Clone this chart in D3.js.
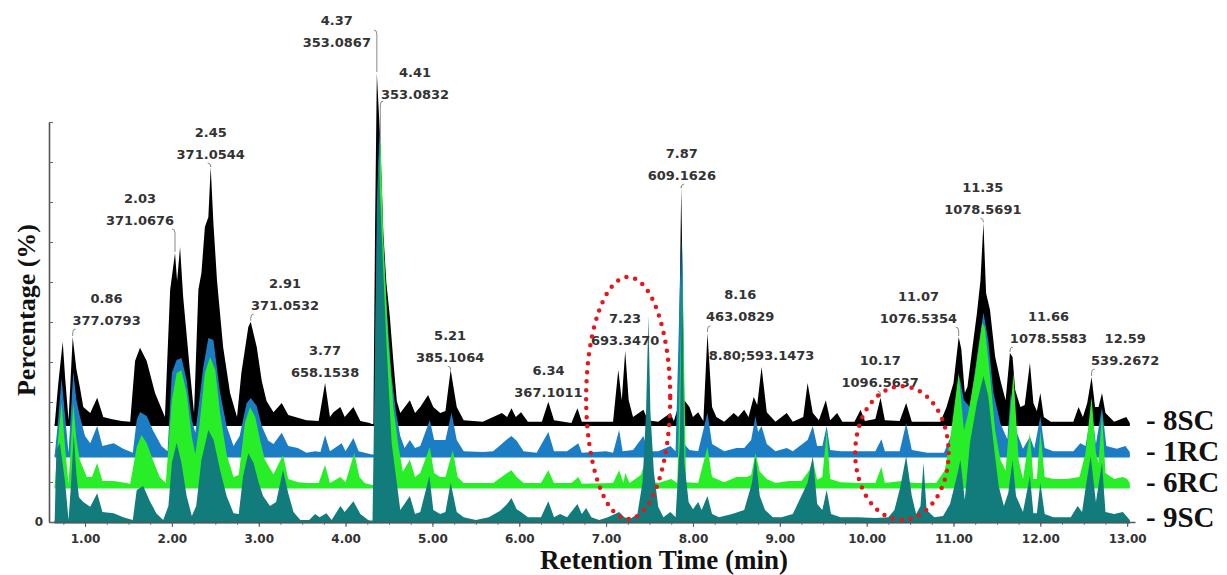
<!DOCTYPE html>
<html>
<head>
<meta charset="utf-8">
<script src="https://cdn.jsdelivr.net/npm/d3@7/dist/d3.min.js"></script>
<style>
  body { margin: 0; background: #fff; }
  svg { display: block; }
</style>
</head>
<body>
<div class="chart"></div>
<script>
// chromatogram values: [retention time (min), intensity (%)]
var s8SC = [[0.65,0],[0.69,10],[0.743,20.8],[0.77,12],[0.81,1.2],[0.858,22],[0.90,14],[0.94,9.5],[0.98,4.5],[1.06,3],[1.14,6.8],[1.21,2],[1.30,1.5],[1.42,1],[1.52,0.8],[1.576,16],[1.633,19.3],[1.71,16],[1.806,8],[1.92,2],[1.98,33.8],[2.036,43],[2.06,36],[2.094,44.5],[2.13,32],[2.21,13],[2.255,3],[2.305,33.8],[2.34,38],[2.38,49.5],[2.42,52],[2.447,64.5],[2.478,50.5],[2.52,36],[2.59,19.5],[2.67,8],[2.75,2],[2.80,13],[2.88,24.5],[2.908,25.8],[2.977,19.5],[3.035,11],[3.09,6],[3.17,3.2],[3.265,5.5],[3.34,2.5],[3.55,1.2],[3.69,1],[3.764,10.5],[3.82,2],[3.86,3.2],[3.94,4.5],[3.99,2],[4.09,4.5],[4.17,1],[4.28,0.5],[4.32,0],[4.34,50],[4.36,88],[4.40,71],[4.435,48],[4.47,35.5],[4.51,27],[4.55,16],[4.59,6],[4.63,3],[4.74,6.2],[4.80,3],[4.86,4.5],[4.95,7.5],[5.01,4.5],[5.09,3],[5.15,3.5],[5.21,13.8],[5.28,4.5],[5.36,1.2],[5.58,0.8],[5.80,3],[5.86,2],[5.91,4.2],[5.96,2],[6.02,3.2],[6.10,0.8],[6.26,0.8],[6.335,5.8],[6.40,1.2],[6.60,0.5],[6.67,4.2],[6.72,0.8],[7.08,0.8],[7.14,13.8],[7.18,6.2],[7.22,18.5],[7.26,6.2],[7.31,2],[7.43,3.8],[7.48,1.2],[7.60,0.8],[7.74,3],[7.78,1],[7.83,4.5],[7.865,59.5],[7.90,6.2],[7.96,4.5],[8.0,2],[8.06,3.2],[8.12,1],[8.167,23],[8.22,4.5],[8.27,2],[8.36,0.8],[8.47,3],[8.52,2],[8.59,3.8],[8.64,2],[8.70,7],[8.74,5],[8.79,14.5],[8.85,3.2],[8.95,0.8],[9.08,3],[9.15,0.8],[9.27,2],[9.32,10.5],[9.38,3],[9.45,1.2],[9.53,6.2],[9.58,1.2],[9.66,3],[9.72,0.8],[9.86,0.8],[9.93,3.8],[9.98,1],[10.10,1.5],[10.16,6.8],[10.21,1.2],[10.38,1],[10.455,5.5],[10.52,0.8],[10.85,0.8],[10.92,4.5],[11.0,10.5],[11.06,22],[11.09,19],[11.13,8],[11.16,9.5],[11.21,18],[11.27,28],[11.31,36],[11.345,50.5],[11.375,33],[11.42,28.8],[11.48,17],[11.54,11.2],[11.60,6.2],[11.65,18],[11.68,17],[11.71,8.8],[11.77,4.5],[11.82,5],[11.88,15.5],[11.92,5.5],[11.96,3.5],[12.0,8],[12.04,2],[12.12,0.8],[12.38,0.8],[12.44,4.5],[12.49,2],[12.54,5.5],[12.59,12],[12.63,4.5],[12.67,4.5],[12.71,8],[12.75,3],[12.85,0.8],[12.99,2],[13.03,0.5]];

var s1RC = [[0.65,0],[0.69,9],[0.73,19.5],[0.77,10],[0.81,0.8],[0.865,21],[0.90,14],[0.94,10],[1.0,5],[1.06,3.2],[1.14,7.5],[1.20,2.5],[1.33,3.2],[1.44,1.8],[1.55,0.8],[1.595,9],[1.633,11],[1.71,10],[1.78,6.5],[1.88,2.5],[1.95,1.2],[2.0,20.8],[2.055,24],[2.11,24.5],[2.17,19],[2.23,9],[2.27,5.8],[2.305,12],[2.36,22],[2.42,29.5],[2.478,29],[2.555,15.8],[2.63,7.5],[2.71,2.5],[2.78,5],[2.86,13.2],[2.908,14.5],[2.977,12.5],[3.035,7.5],[3.11,3.8],[3.17,3],[3.265,5.8],[3.34,2.5],[3.45,2],[3.55,0.8],[3.65,1.2],[3.71,1],[3.764,5.2],[3.82,1.2],[3.955,3.2],[4.0,1.2],[4.09,4.5],[4.15,1.2],[4.28,0.5],[4.33,0],[4.36,62],[4.39,81.5],[4.43,55],[4.48,35],[4.53,20],[4.58,11],[4.63,5],[4.68,2],[4.74,4],[4.80,2],[4.86,2.5],[4.97,9],[5.02,4],[5.09,4],[5.15,4],[5.22,10.8],[5.28,4],[5.36,1.2],[5.58,1],[5.70,1.2],[5.86,4.2],[5.91,5],[5.97,3.8],[6.05,1.2],[6.20,0.8],[6.335,6],[6.40,1.2],[6.55,1.2],[6.68,3.2],[6.72,0.8],[7.0,1.2],[7.08,0.8],[7.15,6.5],[7.19,1.2],[7.31,1.5],[7.43,5],[7.48,1.2],[7.60,1.2],[7.74,2.5],[7.80,1.2],[7.865,54.8],[7.90,3],[7.96,1.5],[8.06,1.2],[8.167,10.8],[8.22,3],[8.36,1.2],[8.50,2],[8.59,2],[8.67,4],[8.72,10],[8.75,6],[8.79,7.5],[8.85,3],[8.95,1.2],[9.08,2],[9.15,1.2],[9.32,4],[9.38,7.5],[9.43,2.5],[9.49,2.5],[9.54,7.5],[9.58,1.5],[9.70,1.2],[9.90,1.2],[10.10,1.2],[10.17,4.2],[10.21,1.2],[10.38,1.2],[10.455,8.2],[10.52,1.5],[10.70,0.8],[10.89,0.8],[11.0,6.5],[11.07,19.8],[11.12,14],[11.19,12.2],[11.27,24.8],[11.345,35.8],[11.40,29],[11.46,15.8],[11.54,8.2],[11.62,4.2],[11.66,15.8],[11.73,5.8],[11.80,1.8],[11.88,4.8],[11.93,1.8],[12.0,9.8],[12.05,2],[12.15,1.2],[12.38,1.2],[12.46,3.2],[12.52,2.5],[12.59,11.5],[12.64,3],[12.71,12.2],[12.76,2.5],[12.88,1.8],[12.98,2.5],[13.03,1]];

var s6RC = [[0.65,0],[0.69,12],[0.73,21],[0.77,10],[0.81,0.8],[0.865,21],[0.90,12],[0.94,6.8],[1.02,2.5],[1.08,2.5],[1.14,6],[1.20,1.5],[1.33,1.5],[1.42,1.2],[1.52,0.8],[1.595,10],[1.65,13],[1.71,11],[1.78,6.8],[1.86,2.5],[1.93,1],[2.0,21.8],[2.055,28.5],[2.11,29.2],[2.17,23.5],[2.23,12.5],[2.27,8.2],[2.32,16],[2.38,28.5],[2.44,32.5],[2.50,29.2],[2.555,18.5],[2.63,8.2],[2.71,2.5],[2.77,3],[2.84,16],[2.90,20],[2.96,17.5],[3.015,11.8],[3.07,6.8],[3.17,3.2],[3.28,8],[3.34,2],[3.45,1.2],[3.55,1],[3.69,1],[3.764,5.5],[3.82,1],[3.94,2.5],[4.0,1.2],[4.10,8.5],[4.16,2.5],[4.22,1],[4.30,0.5],[4.34,0.5],[4.37,50],[4.40,88.5],[4.435,61.8],[4.49,36.8],[4.55,20],[4.61,10],[4.66,3.8],[4.74,6.8],[4.80,2.5],[4.86,3.5],[4.97,10],[5.02,3.5],[5.09,2.5],[5.15,2.5],[5.235,9.2],[5.29,2.5],[5.36,1],[5.70,1],[5.86,3.5],[5.91,4.2],[5.97,2.5],[6.05,1],[6.25,1],[6.335,4.2],[6.40,1],[6.60,1],[6.68,2.5],[6.72,0.8],[7.08,1],[7.15,4.2],[7.20,1],[7.22,3.5],[7.27,1],[7.40,3],[7.43,5],[7.48,1.5],[7.60,1],[7.75,2],[7.82,1],[7.88,56],[7.92,1.2],[8.06,1],[8.167,10],[8.22,2.5],[8.36,1.2],[8.50,2.5],[8.62,2.5],[8.67,3],[8.72,8.5],[8.77,3.8],[8.85,2],[8.95,1],[9.10,1.5],[9.25,1.5],[9.34,4.2],[9.38,6.8],[9.43,1.8],[9.49,2.5],[9.54,14.2],[9.58,2],[9.70,1.2],[9.90,1],[10.10,1],[10.17,5],[10.21,1],[10.40,1.5],[10.55,1],[10.80,1],[10.90,4.2],[10.96,11.8],[11.06,28.5],[11.12,14.2],[11.17,18.5],[11.25,28.5],[11.33,41],[11.36,40],[11.41,30],[11.48,14.2],[11.54,6.8],[11.60,4.2],[11.65,17.5],[11.69,28.5],[11.75,6.8],[11.80,2],[11.88,13.5],[11.92,2],[11.96,2],[12.0,14.2],[12.05,2.5],[12.15,2],[12.30,2],[12.45,2.5],[12.52,8.5],[12.59,22.5],[12.64,8.5],[12.67,6],[12.71,18.5],[12.75,3.5],[12.85,2],[12.95,2.5],[13.0,2],[13.03,1]];

var s9SC = [[0.65,0],[0.67,18],[0.71,19.8],[0.77,10],[0.81,0.5],[0.84,10],[0.87,22],[0.90,12],[0.93,6.2],[0.98,5],[1.06,3.8],[1.14,7.2],[1.20,2.5],[1.33,2.2],[1.44,1.2],[1.55,0.5],[1.595,8],[1.67,9],[1.74,5.5],[1.82,2.2],[1.90,0.5],[1.96,4],[2.0,14.8],[2.055,19.8],[2.11,14.8],[2.17,6.5],[2.23,1.5],[2.28,4],[2.34,15.5],[2.42,23],[2.48,20.5],[2.555,13],[2.63,6.5],[2.71,2.2],[2.77,2],[2.82,11.5],[2.88,17.2],[2.94,14.8],[3.0,9.8],[3.05,6.5],[3.13,4],[3.20,5],[3.28,13],[3.34,7.2],[3.40,2.5],[3.48,0.5],[3.58,0.5],[3.65,2],[3.70,1.2],[3.78,2.2],[3.84,0.5],[3.94,4],[3.99,2.5],[4.09,5.2],[4.17,2],[4.26,0.5],[4.31,0],[4.34,44.8],[4.377,92.2],[4.42,69.8],[4.47,44.8],[4.53,19.8],[4.63,3],[4.74,6.5],[4.80,2],[4.86,2.5],[4.965,11.5],[5.01,3],[5.09,2],[5.15,2.5],[5.21,9.8],[5.28,2.5],[5.36,1.2],[5.50,0.5],[5.65,1.2],[5.78,2.8],[5.86,4.5],[5.91,6],[5.97,3.2],[6.02,2.5],[6.10,1.2],[6.25,1.2],[6.335,5.2],[6.40,1.2],[6.47,2],[6.55,1.2],[6.67,4.5],[6.72,2],[6.77,3.5],[6.83,1.2],[6.92,0.5],[7.02,1.2],[7.15,2.5],[7.21,1.2],[7.28,0.8],[7.36,2],[7.42,10],[7.46,27.5],[7.487,51.5],[7.51,27.5],[7.55,12.5],[7.60,3.8],[7.66,1.2],[7.74,2.5],[7.80,1.2],[7.85,20],[7.875,68.8],[7.90,15],[7.95,5],[8.0,3.2],[8.06,5],[8.10,3],[8.167,6.5],[8.22,2],[8.30,1.2],[8.45,2],[8.59,3],[8.68,9.8],[8.72,16.5],[8.77,6.5],[8.83,3],[8.92,1.2],[9.02,1.2],[9.15,2],[9.32,9.8],[9.38,16.5],[9.43,4.5],[9.49,3],[9.54,8],[9.59,2],[9.70,1.2],[9.90,1.2],[10.10,1],[10.25,1.2],[10.32,3],[10.39,9],[10.455,16.5],[10.52,6.5],[10.57,2],[10.62,4],[10.655,14.8],[10.69,3],[10.78,1.2],[10.88,1.5],[10.96,4.5],[11.04,11.5],[11.08,15.5],[11.13,5.5],[11.19,19.8],[11.27,29.8],[11.345,36.5],[11.40,31.5],[11.46,19.8],[11.52,9],[11.58,4],[11.63,7.2],[11.68,15.5],[11.72,6.5],[11.80,2.5],[11.88,11.5],[11.92,2.2],[11.96,2.2],[12.0,9.8],[12.05,2],[12.15,1.2],[12.35,1.2],[12.43,4],[12.48,2.5],[12.53,9.8],[12.58,16.5],[12.64,5],[12.71,14.8],[12.75,2.5],[12.85,2],[12.95,2.5],[13.03,0.5]];

var sampleNames = ["8SC", "1RC", "6RC", "9SC"];
var xTicks = [1,2,3,4,5,6,7,8,9,10,11,12,13];

// peak annotations: retention time label, m/z, time of the annotated peak
var peakRT = ["0.86","2.03","2.45","2.91","3.77","4.37","4.41","5.21","6.34","7.23","7.87","8.16","8.80;593.1473","10.17","11.07","11.35","11.66","12.59"];
var peakMZ = ["377.0793","371.0676","371.0544","371.0532","658.1538","353.0867","353.0832","385.1064","367.1011","693.3470","609.1626","463.0829","","1096.5637","1076.5354","1078.5691","1078.5583","539.2672"];
var peakTime = [0.86,2.03,2.45,2.91,3.77,4.37,4.41,5.21,6.34,7.23,7.87,8.16,8.80,10.17,11.07,11.35,11.66,12.59];

// ---- layout (not data) ----
var W = 1227, H = 575;
var traceColors = ["#000000", "#1b7dc4", "#27ee27", "#127b7b"];
var traceOffset = [24.25, 16.5, 8.75, 0];   // stacked baselines, in % units
// label anchor in chart units: [time at label centre, % at second line]
var labelAt = [[1.248,50.5],[1.633,75.5],[2.447,92],[3.303,54.25],[3.764,37.5],[3.899,120],[4.80,107],[5.204,41.25],[6.336,32.5],[7.219,45.5],[7.872,86.75],[8.544,51.3],[8.79,41.75],[10.156,35],[10.597,51],[11.338,78.2],[12.094,46],[12.977,40.5]];
var leaderTop = {5: 123, 6: 105.25};
// dotted ellipses: [centre time, centre %, half width (min), half height (%)]
var rings = [[7.254, 31, 0.484, 30.25], [10.406, 17.25, 0.538, 16.7]];

var svg = d3.select("div.chart").append("svg")
  .attr("width", W).attr("height", H);

var x = d3.scaleLinear().domain([0.585, 13.09]).range([49, 1135]);
var y = d3.scaleLinear().domain([0, 100]).range([522, 122]);

var seriesData = [s8SC, s1RC, s6RC, s9SC];

seriesData.forEach(function(vals, i){
  var off = traceOffset[i];
  var area = d3.area()
    .x(function(d){ return x(d[0]); })
    .y0(y(off))
    .y1(function(d){ return y(off + d[1]); });

  svg.append("path")
    .attr("class", "trace " + sampleNames[i])
    .attr("fill", traceColors[i])
    .attr("d", area(vals));

  svg.append("line")
    .attr("x1", x(vals[0][0])).attr("x2", x(vals[vals.length-1][0]))
    .attr("y1", y(off)).attr("y2", y(off))
    .attr("stroke", traceColors[i])
    .attr("stroke-width", i === 0 ? 2 : 3);
});

// axes
var xMinor = d3.range(0.75, 13.01, 0.25);
svg.append("g")
  .attr("transform", "translate(0," + y(0) + ")")
  .call(d3.axisBottom(x).tickValues(xMinor).tickSize(3).tickFormat(""))
  .call(function(g){ g.select(".domain").remove(); g.selectAll("line").attr("stroke", "#777"); });

var xAxis = svg.append("g")
  .attr("class", "x axis")
  .attr("transform", "translate(0," + y(0) + ")")
  .call(d3.axisBottom(x).tickValues(xTicks).tickSize(5).tickSizeOuter(0)
    .tickFormat(d3.format(".2f")).tickPadding(7));
xAxis.select(".domain").attr("stroke", "#555").attr("stroke-width", 1.6);
xAxis.selectAll(".tick line").attr("stroke", "#555");
xAxis.selectAll("text")
  .attr("font-family", "DejaVu Sans, Verdana, sans-serif")
  .attr("font-weight", "bold").attr("font-size", 12).attr("fill", "#333");

var yAxis = svg.append("g")
  .attr("class", "y axis")
  .attr("transform", "translate(" + x(0.585) + ",0)")
  .call(d3.axisLeft(y).tickValues(d3.range(0, 101, 10)).tickSizeInner(-4).tickSizeOuter(0)
    .tickPadding(6).tickFormat(function(d){ return d === 0 ? "0" : ""; }));
yAxis.select(".domain").attr("stroke", "#555").attr("stroke-width", 1.6);
yAxis.selectAll(".tick line").attr("stroke", "#666");
yAxis.selectAll("text")
  .attr("font-family", "DejaVu Sans, Verdana, sans-serif")
  .attr("font-weight", "bold").attr("font-size", 12).attr("fill", "#333");

// peak labels and leaders
function peakTopOf(t){
  var best = null;
  s8SC.forEach(function(d){
    if (Math.abs(d[0] - t) <= 0.025 && (!best || d[1] > best[1])) best = d;
  });
  return best;
}

peakRT.forEach(function(rt, i){
  var lx = x(labelAt[i][0]);
  var ly = y(labelAt[i][1]);
  var g = svg.append("g").attr("class", "peak label");
  var twoLines = peakMZ[i] !== "";

  g.append("text")
    .attr("x", lx).attr("y", twoLines ? ly - 22 : ly)
    .attr("text-anchor", "middle").attr("dominant-baseline", "central")
    .attr("font-family", "DejaVu Sans, Verdana, sans-serif")
    .attr("font-weight", "bold").attr("font-size", 13).attr("fill", "#333")
    .text(rt);
  if (twoLines) {
    g.append("text")
      .attr("x", lx).attr("y", ly)
      .attr("text-anchor", "middle").attr("dominant-baseline", "central")
      .attr("font-family", "DejaVu Sans, Verdana, sans-serif")
      .attr("font-weight", "bold").attr("font-size", 13).attr("fill", "#333")
      .text(peakMZ[i]);
  }

  var pk = peakTopOf(peakTime[i]);
  if (!pk || !twoLines) return;
  var px = x(pk[0]);
  var py = y(traceOffset[0] + pk[1]) - 1;
  var top = leaderTop[i] !== undefined ? y(leaderTop[i]) : ly + 9;
  if (py - top < 2) return;
  var hook = px < lx ? 3 : -3;
  g.append("path")
    .attr("fill", "none").attr("stroke", "#8a8a8a").attr("stroke-width", 1)
    .attr("d", "M" + (px + hook) + "," + top + " Q" + px + "," + top + " " + px + "," + (top + 4) + " L" + px + "," + py);
});

// red dotted rings
rings.forEach(function(r){
  svg.append("ellipse")
    .attr("cx", x(r[0])).attr("cy", y(r[1]))
    .attr("rx", x(r[0] + r[2]) - x(r[0]))
    .attr("ry", y(0) - y(r[3]))
    .attr("fill", "none").attr("stroke", "#e8161b")
    .attr("stroke-width", 4.5).attr("stroke-linecap", "round")
    .attr("stroke-dasharray", "0,9");
});

// sample names at right
sampleNames.forEach(function(n, i){
  svg.append("text")
    .attr("x", 1146).attr("y", y(traceOffset[i]) - 5)
    .attr("dominant-baseline", "central")
    .attr("font-family", "Liberation Serif, Times New Roman, serif")
    .attr("font-weight", "bold").attr("font-size", 29).attr("fill", "#111")
    .text("- " + n);
});

// axis titles
svg.append("text")
  .attr("x", 664).attr("y", 569)
  .attr("text-anchor", "middle")
  .attr("font-family", "Liberation Serif, Times New Roman, serif")
  .attr("font-weight", "bold").attr("font-size", 27).attr("fill", "#111")
  .text("Retention Time (min)");

svg.append("text")
  .attr("transform", "translate(35,310) rotate(-90)")
  .attr("text-anchor", "middle")
  .attr("font-family", "Liberation Serif, Times New Roman, serif")
  .attr("font-weight", "bold").attr("font-size", 26).attr("fill", "#111")
  .text("Percentage (%)");
</script>
</body>
</html>
